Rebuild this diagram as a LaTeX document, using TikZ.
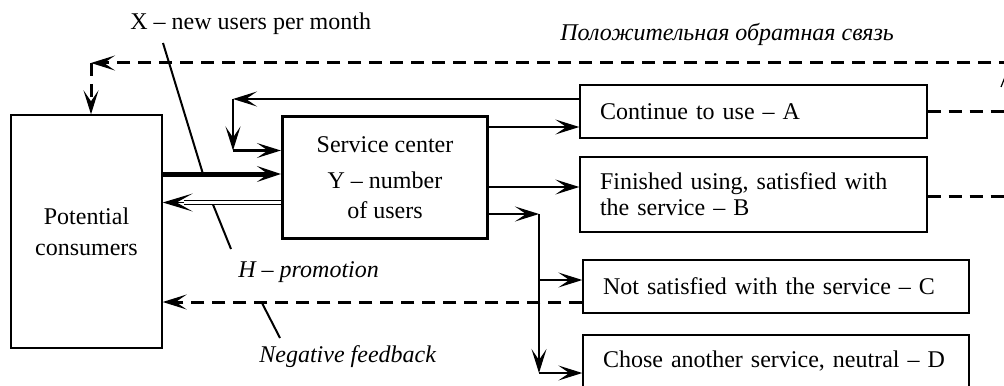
\documentclass[tikz,border=0pt]{standalone}
\usepackage{fontspec}
\setmainfont{Liberation Serif}
\usetikzlibrary{arrows.meta}
\begin{document}
\begin{tikzpicture}[x=0.5pt,y=-0.5pt,
  >={Stealth[length=12pt,width=7.5pt,inset=5.5pt,line width=0.6pt]},
  flow/.style={line width=1.4pt,->},
  fb/.style={line width=1.5pt,dash pattern=on 6.5pt off 4pt},
  fbarrow/.style={fb,->},
  lead/.style={line width=1pt},
  box/.style={draw,line width=0.7pt,inner xsep=10pt,inner ysep=0pt,align=left,
    font=\fontsize{12}{13}\selectfont},
  lbl/.style={inner sep=0pt,font=\fontsize{12}{14}\selectfont}]
\useasboundingbox (0,0) rectangle (1004,385);

% blocks
\node[draw,line width=0.7pt,minimum width=75.5pt,minimum height=116.5pt,inner sep=0pt,
  align=center,font=\fontsize{12}{15.5}\selectfont] (pc) at (86.5,231.5) {Potential\\consumers};
\node[draw,line width=1.65pt,minimum width=102.5pt,minimum height=61pt,inner sep=0pt,
  align=center,font=\fontsize{12}{15}\selectfont] (sc) at (385,177.5)
  {Service center\\[3pt]Y – number\\of users};
\node[box,text width=153.5pt,minimum height=26.5pt] (A) at (753.5,111.5) {Continue to use – A};
\node[box,text width=153.5pt,minimum height=37.5pt] (B) at (753.5,194.5)
  {Finished using, satisfied with\\the service – B};
\node[box,text width=173pt,minimum height=26.5pt] (C) at (776,286.5) {Not satisfied with the service – C};
\node[box,text width=173pt,minimum height=26.5pt] (D) at (776,361.5) {Chose another service, neutral – D};

% labels
\node[lbl,anchor=base west] (xl) at (130,30) {X – new users per month};
\node[lbl,anchor=base west] (pf) at (560,41) {\itshape Положительная обратная связь};
\node[lbl,anchor=base west] (hl) at (238,277) {\itshape H – promotion};
\node[lbl,anchor=base west] (nl) at (259,362.5) {\itshape Negative feedback};

% inflow of new users
\coordinate (xy) at (0,174);
\draw[line width=2.5pt,-{Stealth[length=12pt,width=8pt,inset=5.5pt,line width=0.6pt]}]
  (xy -| pc.east) -- (xy -| sc.west);
\coordinate (xs) at (163,43);
\coordinate (xe) at (203,174);
\draw[lead] (xs) -- (xe);

% promotion (double line back to consumers)
\coordinate (hy) at (0,202.5);
\coordinate (hend) at (184,202.5);
\draw[line width=0.65pt,double distance=1.1pt] (hy -| sc.west) -- (hend);
\draw[line width=0.6pt,-{Stealth[length=15pt,width=9pt,inset=8pt,line width=0.6pt]}]
  (hend) -- (hy -| pc.east);
\coordinate (hs) at (213,204.5);
\coordinate (he) at (231,249);
\draw[lead] (hs) -- (he);

% negative feedback
\coordinate (ny) at (0,302);
\draw[fbarrow] (ny -| C.west) -- (ny -| pc.east);
\coordinate (ns) at (262,303);
\coordinate (ne) at (280,338);
\draw[lead] (ns) -- (ne);

% positive feedback
\coordinate (pin) at (1012,63);
\coordinate (pcorner) at (91,63);
\draw[fbarrow] (pin) -- (pcorner);
\draw[fbarrow] (pcorner) -- (pcorner |- pc.north);
\coordinate (aout) at (1012,111.5);
\coordinate (bout) at (1012,196);
\draw[fb] (A.east) -- (aout);
\draw[fb] (bout -| B.east) -- (bout);
\coordinate (ms) at (1001,87);
\coordinate (me) at (1005,77);
\draw[line width=0.6pt] (ms) -- (me);

% users who continue return to the service center
\coordinate (ly) at (0,99);
\coordinate (lc) at (233,99);
\coordinate (lb) at (233,150.5);
\draw[flow] (ly -| A.west) -- (lc);
\draw[flow] (lc) -- (lb);
\draw[flow] (lb) -- (lb -| sc.west);

% outputs of the service center
\coordinate (oa) at (0,127);
\coordinate (ob) at (0,187);
\coordinate (oc) at (539,214);
\coordinate (bc) at (539,280);
\coordinate (bd) at (539,373);
\draw[flow] (oa -| sc.east) -- (oa -| A.west);
\draw[flow] (ob -| sc.east) -- (ob -| B.west);
\draw[flow] (oc -| sc.east) -- (oc);
\draw[flow] (oc) -- (bd);
\draw[flow] (bc) -- (bc -| C.west);
\draw[flow] (bd) -- (bd -| D.west);
\end{tikzpicture}
\end{document}
